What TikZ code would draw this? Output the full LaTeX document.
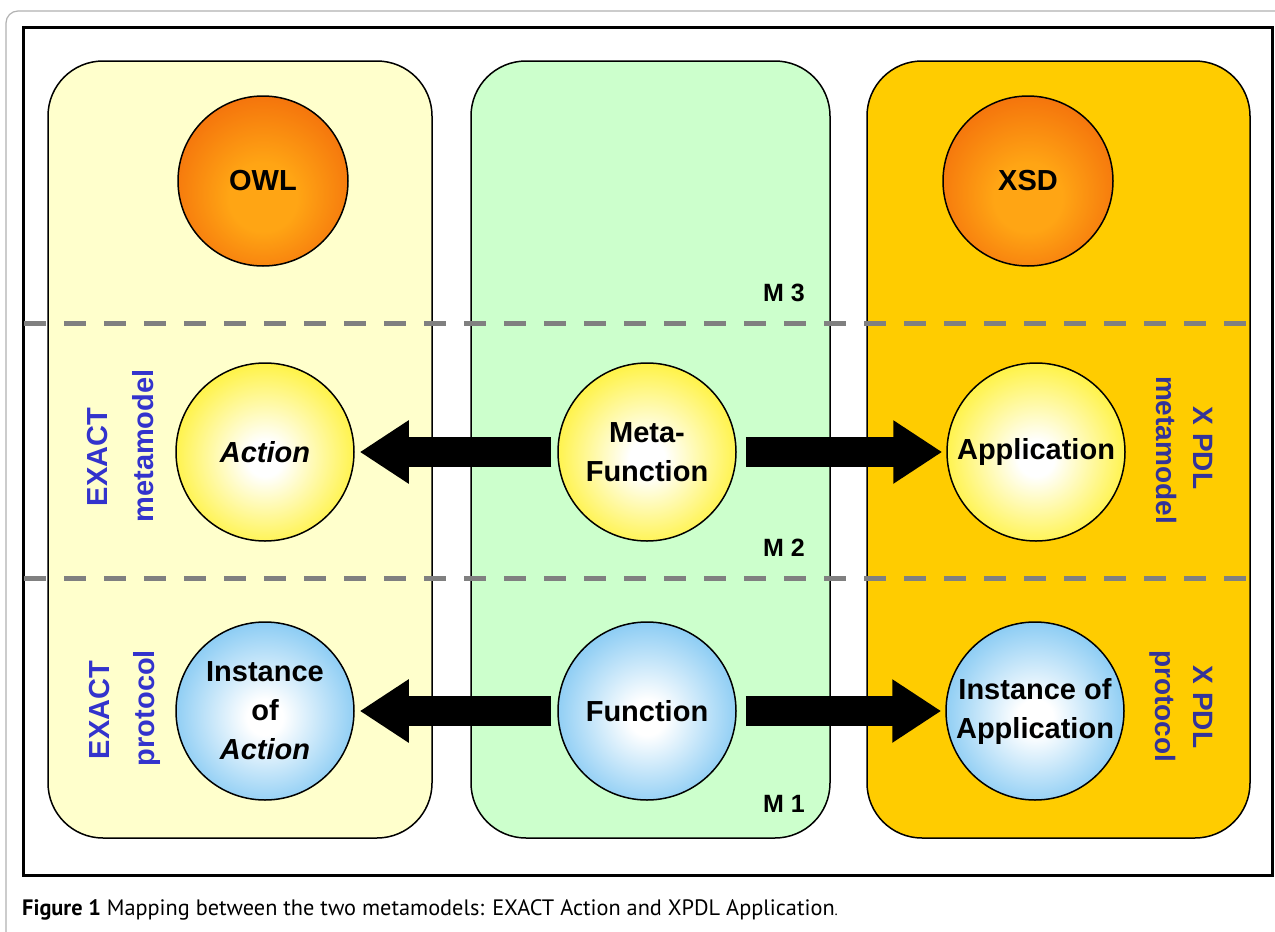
\documentclass[tikz,border=0pt]{standalone}
\usepackage{fontspec}
\setmainfont{Liberation Sans}
\newfontfamily\capfont{PT Sans}
\usetikzlibrary{arrows.meta}

\definecolor{panelY}{RGB}{255,255,204}
\definecolor{panelG}{RGB}{204,255,204}
\definecolor{panelO}{RGB}{255,204,0}
\definecolor{lblL}{RGB}{51,51,204}
\definecolor{lblR}{RGB}{51,51,153}
\definecolor{dashgray}{RGB}{128,128,128}
\definecolor{orA}{RGB}{255,165,20}
\definecolor{orB}{RGB}{235,72,5}
\definecolor{yelB}{RGB}{255,238,0}
\definecolor{bluB}{RGB}{80,178,238}

\pgfdeclareradialshading{orangeball}{\pgfpoint{0bp}{-6bp}}{color(0bp)=(orA); color(10bp)=(orA); color(44bp)=(orB); color(50bp)=(orB)}
\pgfdeclareradialshading{yellowball}{\pgfpoint{0bp}{-2bp}}{color(0bp)=(white); color(5bp)=(white); color(34bp)=(yelB); color(50bp)=(yelB)}
\pgfdeclareradialshading{blueball}{\pgfpoint{0bp}{-2bp}}{color(0bp)=(white); color(5bp)=(white); color(37bp)=(bluB); color(50bp)=(bluB)}

\tikzset{
  panel/.style={draw, line width=1.5pt, rounded corners=55pt},
  sphere/.style={circle, draw, line width=1.5pt, minimum size=178pt, inner sep=0pt, align=center,
     font=\fontsize{29}{39}\selectfont\bfseries},
  levelline/.style={dashgray, line width=5pt, dash pattern=on 22pt off 18pt},
  levellabel/.style={font=\fontsize{25}{25}\selectfont\bfseries},
  sideL/.style={rotate=90, text=lblL, font=\fontsize{29}{29}\selectfont\bfseries},
  sideR/.style={rotate=-90, text=lblR, font=\fontsize{28}{28}\selectfont\bfseries},
  blockarrow/.style={line width=30pt, -{Triangle[length=49pt,width=60pt]}}
}

\begin{document}
\begin{tikzpicture}[x=1pt,y=-1pt]
\useasboundingbox (0,0) rectangle (1275,932);
\clip (0,0) rectangle (1275,932);
\fill[white] (0,0) rectangle (1275,932);
% page border and frame
\draw[gray!60, line width=1.2pt, rounded corners=12pt] (6,11) rectangle (1320,980);
\draw[line width=3pt] (23,27) rectangle (1272,875);

% panels
\draw[panel, fill=panelY] (48,61) rectangle (432,838);
\draw[panel, fill=panelG] (471,61) rectangle (830,838);
\draw[panel, fill=panelO] (867,61) rectangle (1250,838);

% level lines
\draw[levelline] (24,323) -- (1252,323);
\draw[levelline] (24,578) -- (1252,578);

% level labels
\node[levellabel] (m3) at (784,293) {M 3};
\node[levellabel] (m2) at (784,548) {M 2};
\node[levellabel] (m1) at (784,804) {M 1};

% spheres
\node[sphere, minimum size=170pt, shading=orangeball] (owl) at (263,181) {OWL};
\node[sphere, minimum size=170pt, shading=orangeball] (xsd) at (1028,181) {XSD};
\node[sphere, shading=yellowball] (action) at (265,452) {\textit{Action}};
\node[sphere, shading=yellowball] (meta) at (647,452) {Meta-\\Function};
\node[sphere, shading=yellowball] (appl) at (1036,452) {Application};
\node[sphere, shading=blueball] (inact) at (265,711) {Instance\\of\\\textit{Action}};
\node[sphere, shading=blueball] (func) at (647,711) {Function};
\node[sphere, shading=blueball] (inappl) at (1035,711) {Instance of\\Application};

% arrows
\draw[blockarrow, shorten <=6pt, shorten >=5pt] (meta) -- (action);
\draw[blockarrow, shorten <=9pt, shorten >=4pt] (meta) -- (appl);
\draw[blockarrow, shorten <=6pt, shorten >=5pt] (func) -- (inact);
\draw[blockarrow, shorten <=9pt, shorten >=4pt] (func) -- (inappl);

% side labels
\node[sideL] (exl1) at (98,457) {EXACT};
\node[sideL] (exl2) at (143,446) {metamodel};
\node[sideL] (exl3) at (100,710) {EXACT};
\node[sideL] (exl4) at (147,708) {protocol};
\node[sideR] (xpl1) at (1203,448) {X PDL};
\node[sideR] (xpl2) at (1166,450) {metamodel};
\node[sideR] (xpl3) at (1203,707) {X PDL};
\node[sideR] (xpl4) at (1163,706) {protocol};

% caption
\node[anchor=base west, inner sep=0pt, font=\capfont\fontsize{22.3}{22.3}\selectfont] (cap) at (22,915)
  {\textbf{Figure 1} Mapping between the two metamodels: EXACT Action and XPDL Application{\fontsize{15}{15}\selectfont.}};
\end{tikzpicture}
\end{document}
